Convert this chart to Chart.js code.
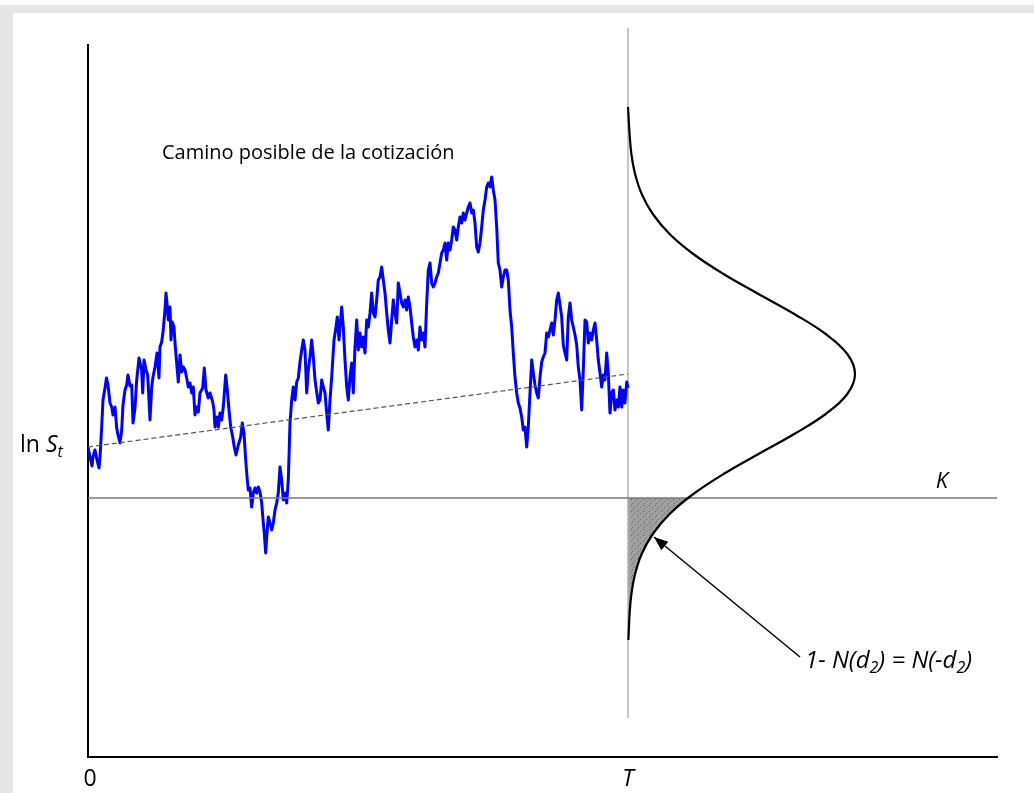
<!DOCTYPE html>
<html>
<head>
<meta charset="utf-8">
<title>Camino posible de la cotización</title>
<script src="https://cdn.jsdelivr.net/npm/chart.js@4.4.1/dist/chart.umd.min.js"></script>
<style>
  html, body { margin: 0; padding: 0; background: #fff; }
  #frame { position: relative; width: 1034px; height: 793px; overflow: hidden; background: #fff; }
  #bandTop { position: absolute; left: 0; top: 5px; width: 1034px; height: 8px; background: #e6e6e6; }
  #bandLeft { position: absolute; left: 0; top: 5px; width: 13px; height: 788px; background: #e6e6e6; }
  canvas { position: absolute; left: 0; top: 0; }
</style>
</head>
<body>
<div id="frame">
  <div id="bandTop"></div>
  <div id="bandLeft"></div>
  <canvas id="chart" width="1034" height="793"></canvas>
</div>
<script>
// ---- Simulated price path: time step and ln S ----
const pathStep = [
  0,2,4,5,7,9,11,12,13.7,15,
  17,18.5,20,22,23.7,25,27,28.7,30,32,
  33.7,35,37,38.7,40,42,43.7,45,47,48.7,
  51,53.7,54.7,56,58,59.7,62,63.7,65,67,
  69,71,72,73.7,75,77,78,79.3,80.3,82,
  83,84.3,86,87,88.7,90.3,92,93.7,95.3,97,
  98.7,100.3,102,103.7,105.3,107,108.7,110.3,112,114.7,
  116.3,118,120.3,122,124.7,126,127,128.7,130.3,132,
  133.7,135.3,137.7,139.3,141,142.7,144.7,146.3,148,150.3,
  152.7,154.3,156,157.7,159.3,160.3,162,163.7,165.3,167,
  168.7,170.3,172,173.7,175.3,176.3,177.7,178.7,180.3,182,
  183.7,185.3,187,188.7,190.3,192,193.7,195.3,197,198.7,
  200.3,202,203.7,205.3,207,208.7,210.3,212,213.7,215.3,
  217,218.7,220.3,222,223.7,225.3,227,228.7,230.3,232,
  233.7,235.3,237,238.7,240.3,242,243.7,246,248,249.3,
  251,253.7,255.3,257,258.7,260.3,262,263.7,265.3,267,
  268.7,270.3,272,273.7,275.3,277,278.7,280.3,282,283.7,
  285.3,287,288.7,290.3,292,293.7,295.3,297,298.7,300.3,
  302,303.7,305.3,307,308.7,310.3,312,313.7,315.3,317,
  318.7,320.3,322,323.7,325.3,327,328.7,330.3,332,333.7,
  335.3,337,338.7,340.3,342,343.7,345.3,347,348.7,350.3,
  352,353.7,355.3,357,358.7,360.3,362,363.7,365.3,367,
  368.7,370.3,372,373.7,375.3,377,378.7,380.3,382,383.7,
  385.3,387,388.7,390.3,392,393.7,395.3,397,398.7,400.3,
  402,403.7,405.3,407,408.7,410.3,412,413.7,415.3,417,
  418.7,420.3,422,423.7,425.3,427,428.7,430.3,432,433.7,
  435.3,437,438.7,440.3,442,443.7,445.3,447,448.7,450.3,
  452,453.7,455.3,457,458.7,460.3,462,463.7,465.3,467,
  468.7,470.3,472,473.7,475.3,477,478.7,480.3,482,483.7,
  485.3,487,488.7,490.3,492,493.7,495.3,497,498.7,500.3,
  502,503.7,505.3,507,508.7,510.3,512,513.7,515.3,517,
  518.7,520.3,522,523.7,525.3,527,528.7,530.3,532,533.7,
  535.3,537,538.7,540
];
const pathLnS = [
  3.10,3.00,2.91,3.00,3.07,2.97,2.89,3.00,3.30,3.57,
  3.69,3.79,3.72,3.54,3.50,3.42,3.50,3.29,3.22,3.14,
  3.27,3.52,3.67,3.72,3.82,3.71,3.72,3.34,3.49,3.77,
  3.99,3.87,3.64,3.97,3.87,3.82,3.37,3.70,3.80,3.90,
  4.04,3.79,4.10,4.15,4.25,4.47,4.64,4.50,4.37,4.50,
  4.17,4.35,4.30,4.14,3.94,3.75,4.02,3.85,3.90,3.87,
  3.79,3.70,3.74,3.64,3.70,3.42,3.50,3.45,3.64,3.69,
  3.89,3.67,3.59,3.64,3.55,3.47,3.30,3.40,3.30,3.44,
  3.37,3.50,3.82,3.67,3.47,3.30,3.20,3.10,3.02,3.12,
  3.20,3.34,3.24,2.97,2.77,2.67,2.69,2.50,2.64,2.69,
  2.64,2.70,2.65,2.54,2.34,2.24,2.04,2.20,2.40,2.34,
  2.27,2.34,2.47,2.54,2.64,2.90,2.77,2.57,2.64,2.54,
  2.77,3.34,3.57,3.70,3.57,3.75,3.79,3.95,4.07,4.17,
  4.07,3.64,3.87,4.00,4.17,4.00,3.77,3.65,3.54,3.57,
  3.77,3.70,3.64,3.44,3.27,3.57,3.80,4.17,4.30,4.40,
  4.17,4.50,4.30,3.97,3.70,3.57,3.80,3.94,3.64,4.10,
  4.37,4.07,4.24,4.10,4.20,4.04,4.37,4.30,4.44,4.64,
  4.44,4.40,4.57,4.77,4.80,4.90,4.77,4.64,4.44,4.27,
  4.14,4.37,4.57,4.44,4.34,4.74,4.64,4.54,4.50,4.57,
  4.47,4.60,4.50,4.34,4.20,4.10,4.17,4.07,4.30,4.17,
  4.24,4.10,4.54,4.87,4.94,4.74,4.70,4.74,4.80,4.84,
  4.94,5.04,5.07,5.14,4.97,5.14,5.07,5.17,5.30,5.27,
  5.17,5.30,5.40,5.34,5.44,5.37,5.44,5.50,5.54,5.44,
  5.47,5.34,5.10,5.05,5.14,5.30,5.47,5.57,5.70,5.74,
  5.70,5.80,5.67,5.57,5.30,4.94,4.87,4.70,4.80,4.87,
  4.87,4.77,4.47,4.30,4.04,3.80,3.64,3.54,3.49,3.40,
  3.27,3.30,3.10,3.30,3.64,3.97,3.84,3.72,3.64,3.59,
  3.80,3.95,4.00,4.04,4.24,4.20,4.27,4.34,4.22,4.37,
  4.57,4.64,4.52,4.40,4.12,4.04,3.97,4.40,4.54,4.37,
  4.30,4.22,4.12,3.90,3.77,3.47,3.87,4.37,4.35,4.14,
  4.24,4.17,4.27,4.34,4.17,3.97,3.84,3.70,3.82,3.77,
  4.04,3.84,3.44,3.64,3.67,3.47,3.57,3.50,3.70,3.50,
  3.67,3.54,3.75,3.69
];

// ---- Expected drift of ln S from 0 to T ----
const driftStep = [0, 540];
const driftLnS = [3.10, 3.83];

// ---- Strike, maturity and axis extents ----
const strikeK = 2.59;
const maturityT = 540;
const stepMax = 909;
const lnSMax = 7.12;
const maturityLineLnS = [7.29, 0.39];

// ---- Density of ln S_T, drawn sideways from the maturity line ----
const densityLnS = [6.50,6.23,6.03,5.83,5.63,5.43,5.23,5.03,4.83,4.63,4.43,4.23,4.03,3.83,
                    3.63,3.43,3.23,3.03,2.83,2.63,2.43,2.23,2.03,1.83,1.63,1.43,1.17];
const densityWidth = [0,1.6,3.4,7.1,13.7,24.8,41.6,65.3,95.5,130.5,166.2,197.7,219.3,227,
                      219.3,197.7,166.2,130.5,95.5,65.3,41.6,24.8,13.7,7.1,3.4,1.6,0.4];

// ---- Lower tail below K (shaded area) ----
const tailLnS = [2.59,2.53,2.43,2.33,2.23,2.13,2.03,1.93,1.83,1.63,1.43,1.17];
const tailWidth = [60,52.6,41.6,32.4,24.8,18.6,13.7,10.0,7.1,3.4,1.6,0.4];

// ---- Pointer from the label to the shaded tail ----
const arrowStep = [712, 566];
const arrowLnS = [1.00, 2.20];

const FONT = '"Open Sans", "DejaVu Sans", sans-serif';

const xy = (xs, ys) => xs.map((x, i) => ({ x, y: ys[i] }));

function stipplePattern() {
  const c = document.createElement('canvas');
  c.width = 6; c.height = 6;
  const g = c.getContext('2d');
  g.fillStyle = '#a0a0a0';
  g.fillRect(0, 0, 6, 6);
  g.fillStyle = '#666';
  g.fillRect(1, 1, 1, 1);
  g.fillRect(4, 3, 1, 1);
  g.fillRect(2, 5, 1, 1);
  return g.createPattern(c, 'repeat');
}

// closed outline of the tail region: along the curve, then back up the maturity line
const tailShape = xy(tailWidth.map(w => maturityT + w), tailLnS)
  .concat([{ x: maturityT, y: tailLnS[tailLnS.length - 1] }, { x: maturityT, y: strikeK }]);

function drawRuns(ctx, runs, x, y) {
  for (const r of runs) {
    ctx.font = r.font;
    ctx.fillText(r.text, x, y + (r.dy || 0));
    x += ctx.measureText(r.text).width + (r.gap || 0);
  }
  return x;
}

const labelsPlugin = {
  id: 'labels',
  afterDatasetsDraw(chart) {
    const { ctx, scales: { x, y } } = chart;
    ctx.save();

    // arrowhead at the tail end of the pointer
    const tx = x.getPixelForValue(arrowStep[1]), ty = y.getPixelForValue(arrowLnS[1]);
    const fx = x.getPixelForValue(arrowStep[0]), fy = y.getPixelForValue(arrowLnS[0]);
    const ang = Math.atan2(ty - fy, tx - fx);
    const len = 14, half = 5.5;
    ctx.fillStyle = '#000';
    ctx.beginPath();
    ctx.moveTo(tx, ty);
    ctx.lineTo(tx - len * Math.cos(ang) + half * Math.sin(ang), ty - len * Math.sin(ang) - half * Math.cos(ang));
    ctx.lineTo(tx - len * Math.cos(ang) - half * Math.sin(ang), ty - len * Math.sin(ang) + half * Math.cos(ang));
    ctx.closePath();
    ctx.fill();

    ctx.fillStyle = '#000';
    ctx.textBaseline = 'alphabetic';
    ctx.textAlign = 'left';

    // path caption
    ctx.font = '20px ' + FONT;
    ctx.fillText('Camino posible de la cotización', 162, 159);

    // y-axis label ln S_t
    drawRuns(ctx, [
      { text: 'ln ', font: '23px ' + FONT },
      { text: 'S', font: 'italic 23px ' + FONT },
      { text: 't', font: 'italic 16px ' + FONT, dy: 5 }
    ], 20, 452);

    // strike label
    ctx.textAlign = 'center';
    ctx.font = 'italic 22px ' + FONT;
    ctx.fillText('K', 942, y.getPixelForValue(strikeK) - 10);

    // time axis labels
    ctx.font = '23px ' + FONT;
    ctx.fillText('0', x.getPixelForValue(0) + 2, 786);
    ctx.font = 'italic 23px ' + FONT;
    ctx.fillText('T', x.getPixelForValue(maturityT), 786);

    // probability label
    ctx.textAlign = 'left';
    const big = 'italic 24px ' + FONT, small = 'italic 16px ' + FONT;
    drawRuns(ctx, [
      { text: '1- N(', font: big },
      { text: 'd', font: big },
      { text: '2', font: small, dy: 5 },
      { text: ') = N(-', font: big },
      { text: 'd', font: big },
      { text: '2', font: small, dy: 5 },
      { text: ')', font: big }
    ], 805, 668);

    ctx.restore();
  }
};

new Chart(document.getElementById('chart'), {
  type: 'line',
  data: {
    datasets: [
      { // pointer line
        data: xy(arrowStep, arrowLnS),
        borderColor: '#000', borderWidth: 1.5, tension: 0, fill: false
      },
      { // density curve
        data: xy(densityWidth.map(w => maturityT + w), densityLnS),
        borderColor: '#000', borderWidth: 2.2, tension: 0.4, fill: false
      },
      { // strike level K
        data: [{ x: 0, y: strikeK }, { x: stepMax, y: strikeK }],
        borderColor: '#7a7a7a', borderWidth: 1.6, tension: 0, fill: false
      },
      { // expected drift
        data: xy(driftStep, driftLnS),
        borderColor: '#555', borderWidth: 1.2, borderDash: [5, 3], tension: 0, fill: false
      },
      { // price path
        data: xy(pathStep, pathLnS),
        borderColor: '#0000ff', borderWidth: 3, tension: 0, fill: false,
        borderJoinStyle: 'round'
      },
      { // maturity line T
        data: [{ x: maturityT, y: maturityLineLnS[0] }, { x: maturityT, y: maturityLineLnS[1] }],
        borderColor: '#b4b4b4', borderWidth: 1.5, tension: 0, fill: false, clip: false
      },
      { // shaded lower tail
        data: tailShape,
        borderWidth: 0, borderColor: 'rgba(0,0,0,0)', tension: 0,
        backgroundColor: stipplePattern(), fill: 'shape'
      }
    ]
  },
  options: {
    responsive: false,
    animation: false,
    devicePixelRatio: 1,
    layout: { padding: { left: 88, top: 45, right: 37, bottom: 36 } },
    elements: { point: { radius: 0, hoverRadius: 0 } },
    plugins: { legend: { display: false }, tooltip: { enabled: false } },
    events: [],
    scales: {
      x: {
        type: 'linear', min: 0, max: stepMax,
        grid: { display: false, drawTicks: false },
        ticks: { display: false },
        border: { display: true, color: '#000', width: 2 },
        afterFit(s) { s.height = 0; }
      },
      y: {
        type: 'linear', min: 0, max: lnSMax,
        grid: { display: false, drawTicks: false },
        ticks: { display: false },
        border: { display: true, color: '#000', width: 2 },
        afterFit(s) { s.width = 0; }
      }
    }
  },
  plugins: [labelsPlugin]
});
</script>
</body>
</html>
